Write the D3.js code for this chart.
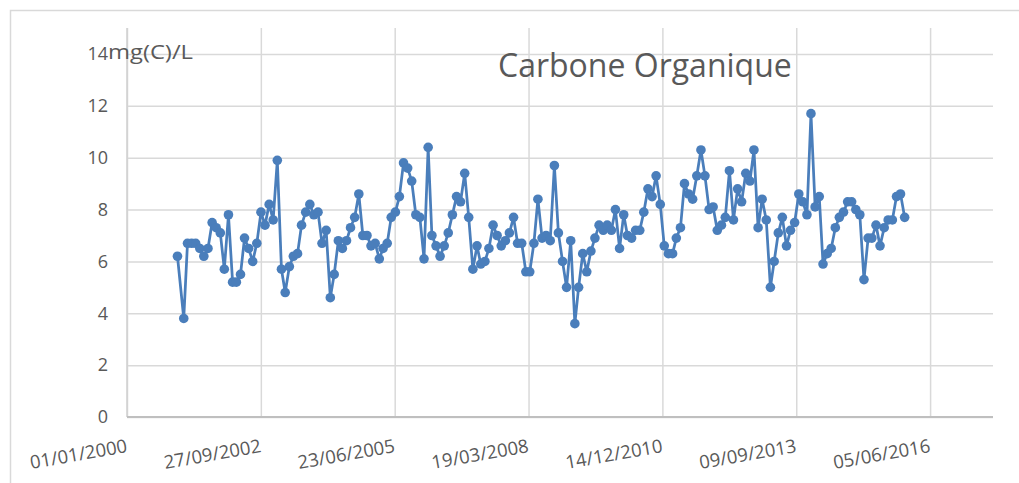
<!DOCTYPE html>
<html>
<head>
<meta charset="utf-8">
<script src="https://cdn.jsdelivr.net/npm/d3@7"></script>
<style>
  html, body { margin: 0; padding: 0; background: #fff; }
  svg { display: block; font-family: "Open Sans", sans-serif; }
</style>
</head>
<body>
<div id="chart"></div>
<script>
// monthly samples, organic carbon (mg(C)/L)
const sampleDates = [
  "2001-01-12","2001-02-28","2001-03-28","2001-04-28","2001-05-28","2001-06-28","2001-07-28","2001-08-28","2001-09-28","2001-10-28","2001-11-28","2001-12-28",
  "2002-01-28","2002-02-28","2002-03-28","2002-04-28","2002-05-28","2002-06-28","2002-07-28","2002-08-28","2002-09-28","2002-10-28","2002-11-28","2002-12-28",
  "2003-01-28","2003-02-28","2003-03-28","2003-04-28","2003-05-28","2003-06-28","2003-07-28","2003-08-28","2003-09-28","2003-10-28","2003-11-28","2003-12-28",
  "2004-01-28","2004-02-28","2004-03-28","2004-04-28","2004-05-28","2004-06-28","2004-07-28","2004-08-28","2004-09-28","2004-10-28","2004-11-28","2004-12-28",
  "2005-01-28","2005-02-28","2005-03-28","2005-04-28","2005-05-28","2005-06-28","2005-07-28","2005-08-28","2005-09-28","2005-10-28","2005-11-28","2005-12-28",
  "2006-01-28","2006-02-28","2006-03-28","2006-04-28","2006-05-28","2006-06-28","2006-07-28","2006-08-28","2006-09-28","2006-10-28","2006-11-28","2006-12-28",
  "2007-01-28","2007-02-28","2007-03-28","2007-04-28","2007-05-28","2007-06-28","2007-07-28","2007-08-28","2007-09-28","2007-10-28","2007-11-28","2007-12-28",
  "2008-01-28","2008-02-28","2008-03-28","2008-04-28","2008-05-28","2008-06-28","2008-07-28","2008-08-28","2008-09-28","2008-10-28","2008-11-28","2008-12-28",
  "2009-01-28","2009-02-28","2009-03-28","2009-04-28","2009-05-28","2009-06-28","2009-07-28","2009-08-28","2009-09-28","2009-10-28","2009-11-28","2009-12-28",
  "2010-01-28","2010-02-28","2010-03-28","2010-04-28","2010-05-28","2010-06-28","2010-07-28","2010-08-28","2010-09-28","2010-10-28","2010-11-28","2010-12-28",
  "2011-01-28","2011-02-28","2011-03-28","2011-04-28","2011-05-28","2011-06-28","2011-07-28","2011-08-28","2011-09-28","2011-10-28","2011-11-28","2011-12-28",
  "2012-01-28","2012-02-28","2012-03-28","2012-04-28","2012-05-28","2012-06-28","2012-07-28","2012-08-28","2012-09-28","2012-10-28","2012-11-28","2012-12-28",
  "2013-01-28","2013-02-28","2013-03-28","2013-04-28","2013-05-28","2013-06-28","2013-07-28","2013-08-28","2013-09-28","2013-10-28","2013-11-28","2013-12-28",
  "2014-01-28","2014-02-28","2014-03-28","2014-04-28","2014-05-28","2014-06-28","2014-07-28","2014-08-28","2014-09-28","2014-10-28","2014-11-28","2014-12-28",
  "2015-01-28","2015-02-28","2015-03-28","2015-04-28","2015-05-28","2015-06-28","2015-07-28","2015-08-28","2015-09-28","2015-10-28","2015-11-28"
];

const carbonValues = [
  6.2, 3.8, 6.7, 6.7, 6.7, 6.5, 6.2, 6.5, 7.5, 7.3, 7.1, 5.7,
  7.8, 5.2, 5.2, 5.5, 6.9, 6.5, 6.0, 6.7, 7.9, 7.4, 8.2, 7.6,
  9.9, 5.7, 4.8, 5.8, 6.2, 6.3, 7.4, 7.9, 8.2, 7.8, 7.9, 6.7,
  7.2, 4.6, 5.5, 6.8, 6.5, 6.8, 7.3, 7.7, 8.6, 7.0, 7.0, 6.6,
  6.7, 6.1, 6.5, 6.7, 7.7, 7.9, 8.5, 9.8, 9.6, 9.1, 7.8, 7.7,
  6.1, 10.4, 7.0, 6.6, 6.2, 6.6, 7.1, 7.8, 8.5, 8.3, 9.4, 7.7,
  5.7, 6.6, 5.9, 6.0, 6.5, 7.4, 7.0, 6.6, 6.8, 7.1, 7.7, 6.7,
  6.7, 5.6, 5.6, 6.7, 8.4, 6.9, 7.0, 6.8, 9.7, 7.1, 6.0, 5.0,
  6.8, 3.6, 5.0, 6.3, 5.6, 6.4, 6.9, 7.4, 7.2, 7.4, 7.2, 8.0,
  6.5, 7.8, 7.0, 6.9, 7.2, 7.2, 7.9, 8.8, 8.5, 9.3, 8.2, 6.6,
  6.3, 6.3, 6.9, 7.3, 9.0, 8.6, 8.4, 9.3, 10.3, 9.3, 8.0, 8.1,
  7.2, 7.4, 7.7, 9.5, 7.6, 8.8, 8.3, 9.4, 9.1, 10.3, 7.3, 8.4,
  7.6, 5.0, 6.0, 7.1, 7.7, 6.6, 7.2, 7.5, 8.6, 8.3, 7.8, 11.7,
  8.1, 8.5, 5.9, 6.3, 6.5, 7.3, 7.7, 7.9, 8.3, 8.3, 8.0, 7.8,
  5.3, 6.9, 6.9, 7.4, 6.6, 7.3, 7.6, 7.6, 8.5, 8.6, 7.7
];

const xTickLabels = ["01/01/2000", "27/09/2002", "23/06/2005", "19/03/2008", "14/12/2010", "09/09/2013", "05/06/2016"];
const yTickValues = [0, 2, 4, 6, 8, 10, 12, 14];
const xDomainLabels = ["01/01/2000", "18/09/2017"];

const chartTitle = "Carbone Organique";
const unitLabel = "mg(C)/L";

const width = 1019, height = 483;
const plotLeft = 127, plotRight = 993, plotTop = 28, plotBottom = 417;

const parseDay = d3.utcParse("%Y-%m-%d");
const parseTick = d3.utcParse("%d/%m/%Y");

const data = sampleDates.map((d, i) => ({ date: parseDay(d), value: carbonValues[i] }));
const xTicks = xTickLabels.map(parseTick);

const x = d3.scaleUtc()
  .domain(xDomainLabels.map(parseTick))
  .range([plotLeft, plotRight]);
const y = d3.scaleLinear()
  .domain([0, 14])
  .range([plotBottom, 54]);

const svg = d3.select("#chart")
  .append("svg")
  .attr("width", width)
  .attr("height", height);

// outer chart frame
svg.append("rect")
  .attr("x", 10.5)
  .attr("y", 10.5)
  .attr("width", 1030)
  .attr("height", 500)
  .attr("fill", "#fff")
  .attr("stroke", "#d9d9d9")
  .attr("stroke-width", 1.5);

// vertical gridlines
svg.append("g")
  .attr("transform", `translate(0,${plotBottom})`)
  .call(d3.axisBottom(x).tickValues(xTicks).tickSize(-(plotBottom - plotTop)).tickFormat(""))
  .call(g => g.select(".domain").remove())
  .call(g => g.selectAll(".tick line").attr("stroke", "#d9d9d9").attr("stroke-width", 1.5));

// horizontal gridlines
svg.append("g")
  .attr("transform", `translate(${plotLeft},0)`)
  .call(d3.axisLeft(y).tickValues(yTickValues).tickSize(-(plotRight - plotLeft)).tickFormat(""))
  .call(g => g.select(".domain").remove())
  .call(g => g.selectAll(".tick line").attr("stroke", "#d9d9d9").attr("stroke-width", 1.5));

// left axis line
svg.append("line")
  .attr("x1", plotLeft).attr("x2", plotLeft)
  .attr("y1", plotTop).attr("y2", plotBottom)
  .attr("stroke", "#d0d0d0")
  .attr("stroke-width", 1.5);

// bottom axis line
svg.append("line")
  .attr("x1", plotLeft).attr("x2", plotRight)
  .attr("y1", plotBottom).attr("y2", plotBottom)
  .attr("stroke", "#bfbfbf")
  .attr("stroke-width", 1.8);

// y tick labels
svg.append("g")
  .attr("transform", `translate(${plotLeft},0)`)
  .call(d3.axisLeft(y).tickValues(yTickValues).tickSize(0).tickPadding(19))
  .call(g => g.select(".domain").remove())
  .call(g => g.selectAll("text")
    .attr("fill", "#595959")
    .style("font", "18px 'Open Sans', sans-serif"));

// unit label next to the top tick
svg.append("text")
  .attr("x", 108)
  .attr("y", 59)
  .attr("fill", "#595959")
  .attr("textLength", 85)
  .attr("lengthAdjust", "spacingAndGlyphs")
  .style("font", "20px 'Open Sans', sans-serif")
  .text(unitLabel);

// x tick labels, slanted
svg.append("g")
  .selectAll("text")
  .data(xTicks)
  .join("text")
  .attr("transform", d => `translate(${x(d) + 1},452) rotate(-10)`)
  .attr("text-anchor", "end")
  .attr("fill", "#595959")
  .style("font", "18.5px 'Open Sans', sans-serif")
  .text((d, i) => xTickLabels[i]);

// title
svg.append("text")
  .attr("x", 498)
  .attr("y", 77)
  .attr("fill", "#595959")
  .style("font", "32px 'Open Sans', sans-serif")
  .text(chartTitle);

// series line
const line = d3.line()
  .x(d => x(d.date))
  .y(d => y(d.value));

svg.append("path")
  .datum(data)
  .attr("fill", "none")
  .attr("stroke", "#4a7ebb")
  .attr("stroke-width", 2.75)
  .attr("stroke-linejoin", "round")
  .attr("d", line);

svg.append("g")
  .selectAll("circle")
  .data(data)
  .join("circle")
  .attr("cx", d => x(d.date))
  .attr("cy", d => y(d.value))
  .attr("r", 4.8)
  .attr("fill", "#4a7ebb");
</script>
</body>
</html>
